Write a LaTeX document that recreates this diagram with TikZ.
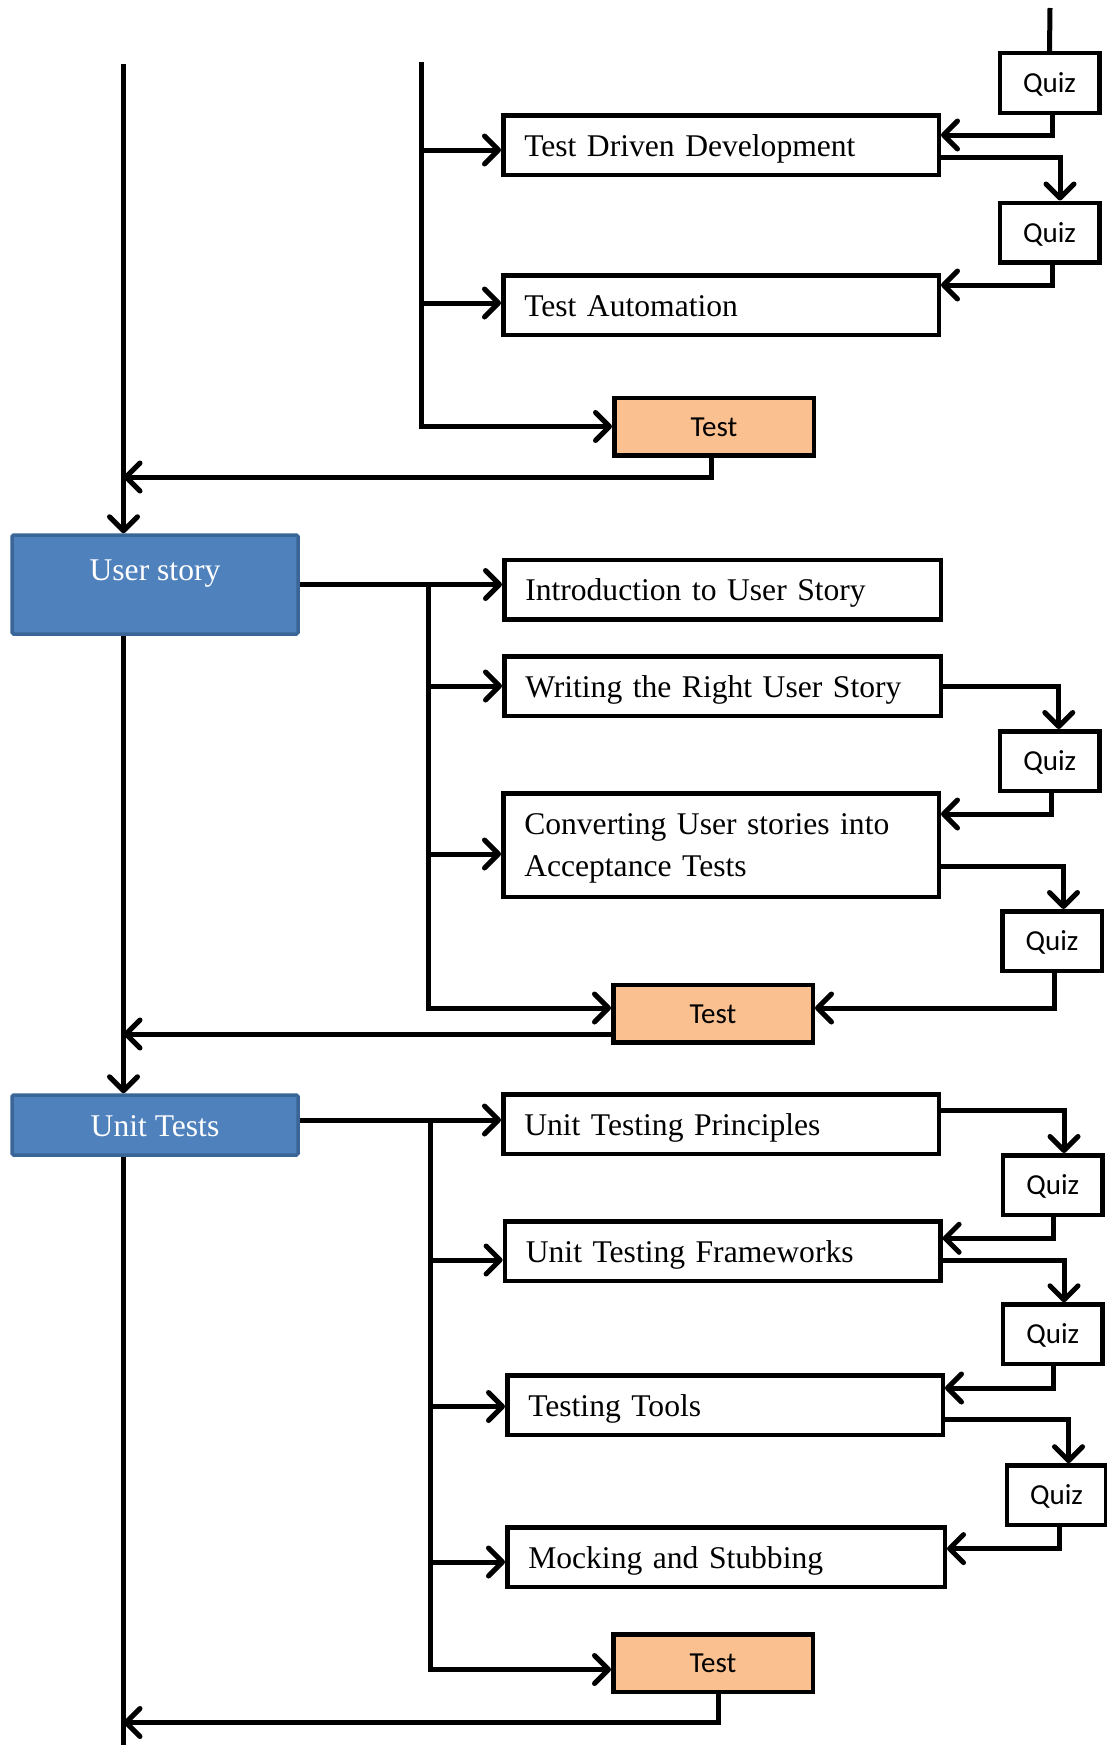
\documentclass[tikz,border=0pt]{standalone}
\usepackage{fontspec}
\setmainfont{Liberation Serif}
\newfontfamily\qfont{Carlito}
\usetikzlibrary{arrows.meta}
\definecolor{bfill}{HTML}{4F81BD}
\definecolor{bdraw}{HTML}{3A6697}
\definecolor{ofill}{HTML}{FAC090}
\begin{document}
\begin{tikzpicture}[x=1pt,y=-1pt,
  conn/.style={line width=5pt},
  arr/.style={conn,-{Straight Barb[length=14pt,width=28pt,line width=5pt,round]}},
  topic/.style={draw,line width=4.5pt,fill=white,font=\fontsize{31.6pt}{42pt}\selectfont,align=left,inner xsep=21pt,inner ysep=0pt,text height=22pt,text depth=0pt,text width=393.5pt,minimum height=59.5pt},
  quiz/.style={draw,line width=4.5pt,fill=white,font=\qfont\fontsize{29pt}{34pt}\selectfont,inner sep=0pt,text height=19pt,text depth=0pt,minimum width=99.5pt,minimum height=59.5pt},
  testbox/.style={quiz,fill=ofill,minimum width=199.5pt,minimum height=57.5pt},
  modbox/.style={draw=bdraw,fill=bfill,line width=3.5pt,text=white,font=\fontsize{31.6pt}{42pt}\selectfont,inner sep=0pt,text height=22pt,text depth=0pt,minimum width=286pt,rounded corners=1.5pt}
]
\useasboundingbox (0,0) rectangle (1106,1745);
\fill[white] (0,0) rectangle (1106,1745);

% nodes
\node[quiz] (q1) at (1049.5,83) {Quiz};
\node[topic] (tdd) at (721,145) {Test Driven Development};
\node[quiz] (q2) at (1049.5,232.5) {Quiz};
\node[topic] (ta) at (721,305) {Test Automation};
\node[testbox] (t1) at (714,426.5) {Test};
\node[modbox,minimum height=99pt,text depth=31pt] (us) at (155,584.5) {User story};
\node[topic,text width=394.5pt] (intro) at (722.5,589.5) {Introduction to User Story};
\node[topic,text width=394.5pt] (wr) at (722.5,686) {Writing the Right User Story};
\node[quiz] (q3) at (1049.75,761) {Quiz};
\node[topic,text depth=44pt,minimum height=103.5pt] (conv) at (721,845) {Converting User stories into\\Acceptance Tests};
\node[quiz] (q4) at (1052,941) {Quiz};
\node[testbox] (t2) at (713,1013.5) {Test};
\node[modbox,minimum height=60pt] (ut) at (155,1125) {Unit Tests};
\node[topic] (utp) at (721,1124) {Unit Testing Principles};
\node[quiz] (q5) at (1052.75,1185) {Quiz};
\node[topic] (utf) at (722.6,1251.3) {Unit Testing Frameworks};
\node[quiz] (q6) at (1052.75,1334.3) {Quiz};
\node[topic] (tt) at (725,1405) {Testing Tools};
\node[quiz] (q7) at (1056.5,1495.2) {Quiz};
\node[topic,text width=395.5pt] (mock) at (726,1557) {Mocking and Stubbing};
\node[testbox] (t3) at (713,1663) {Test};

% coordinates
\coordinate (qtop) at (1050,8);
\coordinate (trk) at (123.5,64);
\coordinate (bot) at (123.5,1745);
\coordinate (b1) at (421,62);
\coordinate (b2x) at (428,0);
\coordinate (b3x) at (430,0);
\coordinate (r1) at (0,477);
\coordinate (r3) at (0,1722.5);

% trunk
\draw[arr] (trk) -- (us.north -| trk);
\draw[arr] (us.south -| trk) -- (ut.north -| trk);
\draw[conn] (ut.south -| trk) -- (bot);

% section 1
\draw[conn] (qtop) -- (q1.north);
\draw[arr] ([xshift=2.5pt]q1.south) |- ([yshift=10pt]tdd.east);
\draw[arr] ([yshift=-12pt]tdd.east) -| ([xshift=10.5pt]q2.north);
\draw[arr] ([xshift=2.5pt]q2.south) |- ([yshift=20pt]ta.east);
\coordinate (tddin) at ([yshift=-5pt]tdd.west);
\coordinate (tain) at ([yshift=2pt]ta.west);
\draw[arr] (b1) |- (t1.west);
\draw[arr] (b1 |- tddin) -- (tddin);
\draw[arr] (b1 |- tain) -- (tain);
\draw[arr] ([xshift=-2.5pt]t1.south) |- (trk |- r1);

% section 2
\coordinate (b2top) at (b2x |- us.east);
\coordinate (t2in) at ([yshift=5.5pt]t2.west);
\coordinate (convin) at ([yshift=-9pt]conv.west);
\draw[arr] (us.east) -- (intro.west |- us.east);
\draw[arr] (b2top) |- (t2in);
\draw[arr] (b2top |- wr.west) -- (wr.west);
\draw[arr] (b2top |- convin) -- (convin);
\draw[arr] (wr.east) -| ([xshift=9pt]q3.north);
\draw[arr] ([xshift=1.25pt]q3.south) |- ([yshift=31pt]conv.east);
\draw[arr] ([yshift=-21pt]conv.east) -| ([xshift=11.5pt]q4.north);
\draw[arr] ([xshift=2pt]q4.south) |- ([yshift=5.5pt]t2.east);
\coordinate (t2out) at ([yshift=-20.5pt]t2.west);
\draw[arr] (t2out) -- (trk |- t2out);

% section 3
\coordinate (utout) at ([yshift=5pt]ut.east);
\coordinate (b3top) at (b3x |- utout);
\coordinate (t3in) at ([yshift=-6.5pt]t3.west);
\coordinate (utfin) at ([yshift=-8.7pt]utf.west);
\coordinate (ttin) at ([yshift=-1.5pt]tt.west);
\coordinate (mockin) at ([yshift=-5pt]mock.west);
\draw[arr] (utout) -- (utp.west |- utout);
\draw[arr] (b3top) |- (t3in);
\draw[arr] (b3top |- utfin) -- (utfin);
\draw[arr] (b3top |- ttin) -- (ttin);
\draw[arr] (b3top |- mockin) -- (mockin);
\draw[arr] ([yshift=13.5pt]utp.east) -| ([xshift=11.25pt]q5.north);
\draw[arr] ([xshift=1pt]q5.south) |- ([yshift=13pt]utf.east);
\draw[arr] ([yshift=-8.7pt]utf.east) -| ([xshift=11.25pt]q6.north);
\draw[arr] ([xshift=1pt]q6.south) |- ([yshift=17pt]tt.east);
\draw[arr] ([yshift=-14pt]tt.east) -| ([xshift=12pt]q7.north);
\draw[arr] ([xshift=2.5pt]q7.south) |- ([yshift=8.4pt]mock.east);
\draw[arr] ([xshift=5pt]t3.south) |- (trk |- r3);
\end{tikzpicture}
\end{document}
